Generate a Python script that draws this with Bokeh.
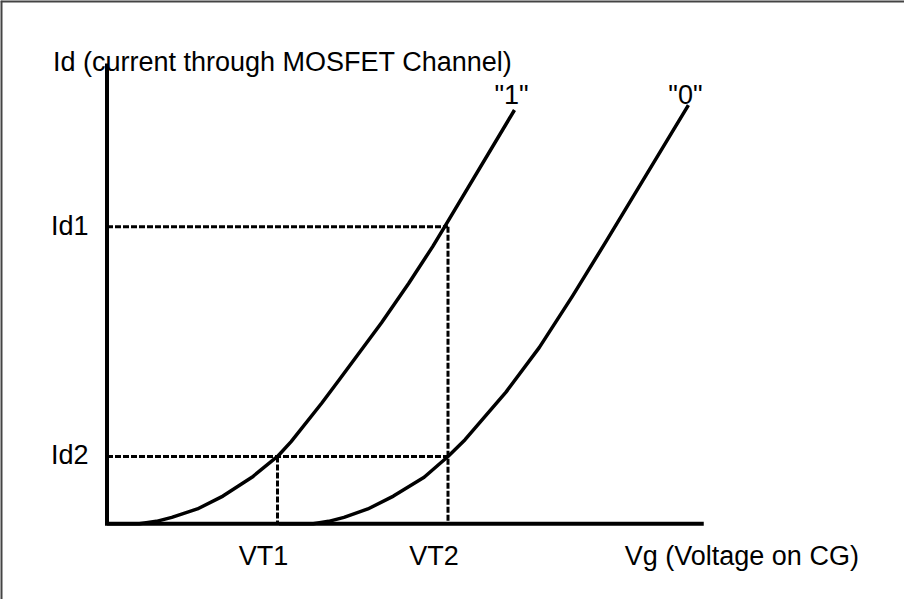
from bokeh.plotting import figure
from bokeh.models import Range1d
from bokeh.core.properties import value
from bokeh.embed import file_html
from bokeh.resources import INLINE

# ---- data ----
# curve for stored "1" (Vg in units of VT1, Id in units where Id1 = 3)
vg_1 = [0.00, 0.19, 0.29, 0.38, 0.53, 0.68, 0.85, 1.00, 1.08, 1.26, 1.36, 1.61, 1.77, 1.91, 1.98, 2.39]
id_1 = [0.00, 0.00, 0.025, 0.065, 0.15, 0.28, 0.47, 0.68, 0.83, 1.22, 1.45, 2.03, 2.43, 2.80, 3.00, 4.18]
# curve for stored "0"
vg_0 = [1.01, 1.21, 1.30, 1.39, 1.53, 1.68, 1.86, 2.00, 2.10, 2.34, 2.535, 2.73, 2.93, 3.41]
id_0 = [0.00, 0.00, 0.025, 0.065, 0.15, 0.28, 0.47, 0.68, 0.85, 1.33, 1.78, 2.30, 2.86, 4.23]
curve_labels = ['"1"', '"0"']
vt_labels = ["VT1", "VT2"]
vt_values = [1.0, 2.0]
id_labels = ["Id1", "Id2"]
id_values = [3.0, 0.68]
x_axis_end = 3.5
y_axis_top = 4.65
title_text = "Id (current through MOSFET Channel)"
xlabel_text = "Vg (Voltage on CG)"

# ---- layout ----
W, H = 904, 599
PX_X, PX_Y = 170.5, 99.0          # pixels per data unit
OX, OY = 106.5, 523.3             # origin position inside the canvas
xs, xe = -OX / PX_X, (W - OX) / PX_X
ye, ys = OY / PX_Y, -(H - OY) / PX_Y

FONT = value("Liberation Sans")
FS = "27px"

p = figure(width=W, height=H, x_range=Range1d(xs, xe), y_range=Range1d(ys, ye),
           output_backend="svg", toolbar_location=None, min_border=0,
           x_axis_location=None, y_axis_location=None)
p.grid.visible = False
p.outline_line_color = None
p.background_fill_color = "white"
p.border_fill_color = "white"

# frame border (top and left visible in the reference)
p.line([xs, xs], [ys, ye], line_width=4, line_color="#444444")
p.line([xs, xe], [ye, ye], line_width=4, line_color="#444444")

# dashed guide lines
p.segment(x0=[0, vt_values[1], 0, vt_values[0]],
          y0=[id_values[0], id_values[0], id_values[1], id_values[1]],
          x1=[vt_values[1], vt_values[1], vt_values[1], vt_values[0]],
          y1=[id_values[0], 0, id_values[1], 0],
          line_color="black", line_width=3, line_dash="6 2")

# curves
p.line(vg_1, id_1, line_color="black", line_width=3.5, line_join="round")
p.line(vg_0, id_0, line_color="black", line_width=3.5, line_join="round")

# axes
p.line([0, 0, x_axis_end], [y_axis_top, 0, 0], line_color="black", line_width=4,
       line_join="miter")

# texts
common = dict(text_font=FONT, text_font_size=FS, text_color="black")
p.text(x=[0], y=[y_axis_top], text=[title_text], x_offset=-54, y_offset=-1,
       text_align="left", text_baseline="alphabetic", **common)
p.text(x=[0, 0], y=id_values, text=id_labels, x_offset=-56, y_offset=-1,
       text_align="left", text_baseline="alphabetic", **common)
p.text(x=vt_values, y=[0, 0], text=vt_labels, x_offset=-14, y_offset=32,
       text_align="center", text_baseline="alphabetic", **common)
p.text(x=[x_axis_end], y=[0], text=[xlabel_text], x_offset=-79, y_offset=32,
       text_align="left", text_baseline="alphabetic", **common)
top = max(id_1[-1], id_0[-1])
p.text(x=[vg_1[-1], vg_0[-1]], y=[top, top], text=curve_labels, x_offset=-3, y_offset=-10,
       text_align="center", text_baseline="alphabetic", **common)

open("out.html", "w").write(file_html(p, INLINE))
